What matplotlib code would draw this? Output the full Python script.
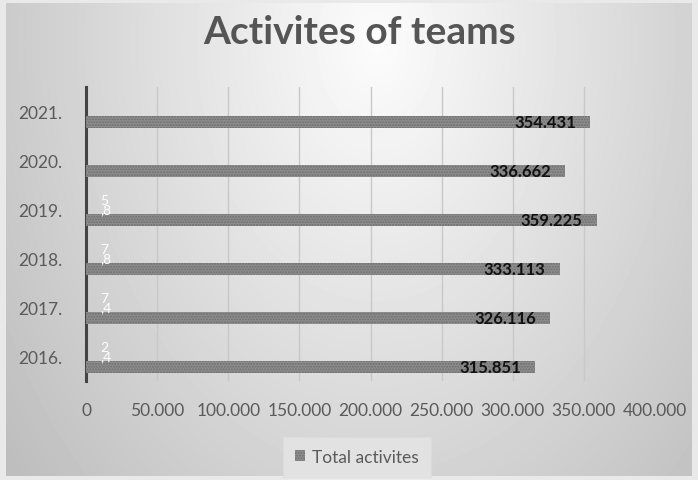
import matplotlib.pyplot as plt
import numpy as np
from matplotlib.ticker import FuncFormatter

years = ["2016.", "2017.", "2018.", "2019.", "2020.", "2021."]
total_activites = [315851, 326116, 333113, 359225, 336662, 354431]
total_labels = ["315.851", "326.116", "333.113", "359.225", "336.662", "354.431"]
# small second series, only its (white) labels show up
small_values = [2.4, 7.4, 7.8, 5.8, None, None]
small_labels = ["2\n,4", "7\n,4", "7\n,8", "5\n,8", None, None]

plt.rcParams["font.family"] = ["Lato", "DejaVu Sans"]

fig = plt.figure(figsize=(6.98, 4.81), dpi=100)
fig.patch.set_facecolor("#e9e9e9")

# radial grey background
bg = fig.add_axes([6 / 698, 4 / 481, 686 / 698, 473 / 481], zorder=-1)
w, h = 686, 473
xx, yy = np.meshgrid(np.arange(w), np.arange(h))
r = np.sqrt(((xx - 370) / 390.0) ** 2 + ((yy - 40) / 560.0) ** 2)
shade = (252 - 52 * np.clip(r, 0, 1.2)) / 255.0
bg.imshow(shade, cmap="gray", vmin=0, vmax=1, aspect="auto")
bg.axis("off")

ax = fig.add_axes([86 / 698, 99 / 481, 569 / 698, 294 / 481])
ax.set_facecolor("none")

y = np.arange(len(years))
bars = ax.barh(y - 0.21, total_activites, height=0.24, color="#8e8e8e",
               edgecolor="#6e6e6e", hatch="......", linewidth=0,
               label="Total activites", zorder=3)

for val, lab, yi in zip(total_activites, total_labels, y):
    ax.text(val - 10000, yi - 0.21, lab, ha="right", va="center",
            fontsize=12, fontweight="bold", color="#111111", zorder=4)

for lab, yi in zip(small_labels, y):
    if lab:
        ax.text(10000, yi + 0.1, lab, ha="left", va="center", fontsize=10,
                color="white", linespacing=0.8, zorder=4)

ax.set_xlim(0, 400000)
ax.set_ylim(-0.5, 5.5)
ax.set_xticks(np.arange(0, 400001, 50000))
ax.xaxis.set_major_formatter(
    FuncFormatter(lambda v, p: "0" if v == 0 else f"{int(v):,}".replace(",", ".")))
ax.set_yticks(y)
ax.set_yticklabels(years)
ax.tick_params(axis="x", length=0, pad=15, labelsize=12.5, labelcolor="#5a5a5a")
ax.tick_params(axis="y", length=0, pad=17, labelsize=12.5, labelcolor="#5a5a5a")

ax.grid(axis="x", color="#c8c8c8", linewidth=1, zorder=0)
for side in ["top", "right", "bottom"]:
    ax.spines[side].set_visible(False)
ax.spines["left"].set_color("#444444")
ax.spines["left"].set_linewidth(2.2)

fig.text(0.515, 0.932, "Activites of teams", ha="center", va="center",
         fontsize=28, fontweight="bold", color="#555555")

leg = ax.legend(loc="center", bbox_to_anchor=(357 / 698, 23 / 481),
                bbox_transform=fig.transFigure, frameon=True, fontsize=12.5,
                handlelength=0.6, handleheight=0.6, handletextpad=0.4,
                borderpad=0.7, fancybox=False)
leg.get_frame().set_facecolor("#e6e6e6")
leg.get_frame().set_edgecolor("#dcdcdc")
for t in leg.get_texts():
    t.set_color("#5a5a5a")

fig.savefig("out.png", dpi=100)
